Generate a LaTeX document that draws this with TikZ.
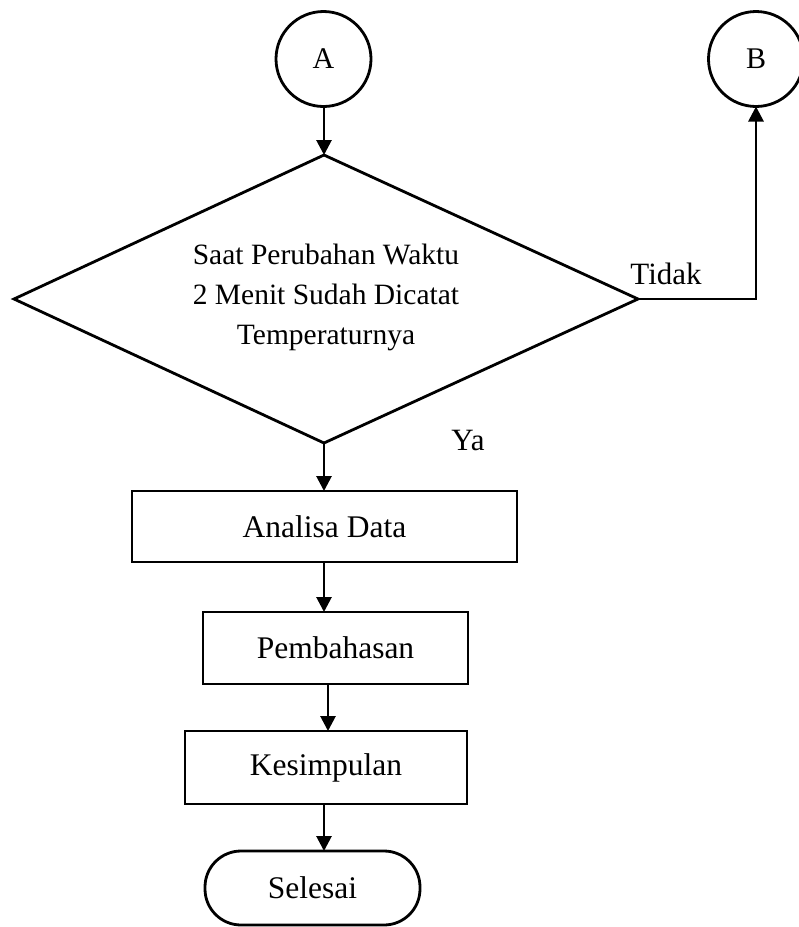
\documentclass[tikz,border=0pt]{standalone}
\usepackage{fontspec}
\setmainfont{Liberation Serif}
\usetikzlibrary{arrows.meta}
\begin{document}
\begin{tikzpicture}[x=1pt,y=-1pt,
  every node/.style={inner sep=0pt,outer sep=0pt},
  ln/.style={line width=2.8pt},
  arr/.style={ln,-{Triangle[length=15pt,width=15pt]}},
  conn/.style={draw,ln,circle,minimum size=95pt,font=\fontsize{30}{36}\selectfont},
  proc/.style={draw,ln,rectangle,font=\fontsize{31.5}{38}\selectfont},
  dectext/.style={align=center,font=\fontsize{29.5}{40}\selectfont},
  term/.style={draw,ln,rectangle,rounded corners=36pt,font=\fontsize{31.5}{38}\selectfont},
  lbl/.style={font=\fontsize{31}{36}\selectfont}
]
\useasboundingbox (0,0) rectangle (799,927);

% connectors
\node[conn] (A) at (323.5,59) {A};
\node[conn] (B) at (756,59) {B};

% decision diamond
\coordinate (decN) at (324,155);
\coordinate (decE) at (638,299);
\coordinate (decS) at (324,443);
\coordinate (decW) at (14,299);
\draw[ln,line join=miter] (decN) -- (decE) -- (decS) -- (decW) -- cycle;
\node[dectext] (dec) at (326,297)
  {Saat Perubahan Waktu\\2 Menit Sudah Dicatat\\Temperaturnya};

% process steps
\node[proc,minimum width=385pt,minimum height=71pt] (ana) at (324.5,526.5) {Analisa Data};
\node[proc,minimum width=265pt,minimum height=72pt] (pem) at (335.5,648) {Pembahasan};
\node[proc,minimum width=282pt,minimum height=73pt] (kes) at (326,767.5) {Kesimpulan};
\node[term,minimum width=215pt,minimum height=74pt] (sel) at (312.5,888) {Selesai};

% labels
\node[lbl] (tidak) at (666,274) {Tidak};
\node[lbl] (ya) at (468,440) {Ya};

% flow
\draw[arr] (decN |- A.south) -- (decN);
\draw[arr] (decE) -- (decE -| B.south) -- (B.south);
\draw[arr] (decS) -- (decS |- ana.north);
\draw[arr] (decS |- ana.south) -- (decS |- pem.north);
\coordinate (p1) at ([xshift=-7.5pt]pem.south);
\draw[arr] (p1) -- (p1 |- kes.north);
\draw[arr] ([xshift=-2pt]kes.south) -- ([xshift=-2pt]kes.south |- sel.north);
\end{tikzpicture}
\end{document}
